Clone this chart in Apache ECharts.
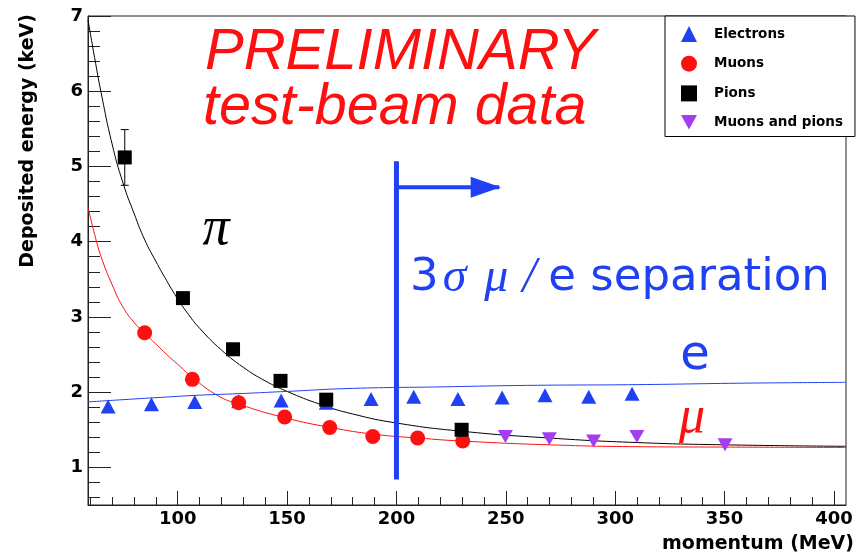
<!DOCTYPE html>
<html>
<head>
<meta charset="utf-8">
<script src="https://cdn.jsdelivr.net/npm/echarts@6/dist/echarts.min.js"></script>
<style>
  html, body { margin: 0; padding: 0; background: #fff; }
  #main { width: 857px; height: 555px; }
</style>
</head>
<body>
<div id="main"></div>
<script>
(function(){
var myChart = echarts.init(document.getElementById('main'));

// data points: [momentum MeV, deposited energy keV]
var electrons = [[68.2,1.81],[88,1.84],[107.8,1.87],[127.9,1.88],[147.3,1.89],[167.9,1.86],[188.4,1.91],[207.9,1.94],[228.1,1.91],[248.3,1.93],[267.9,1.96],[287.9,1.94],[307.7,1.98]];
var muons = [[84.9,2.79],[106.7,2.17],[127.9,1.86],[148.9,1.67],[169.5,1.53],[189.2,1.41],[209.7,1.39],[230.3,1.35]];
var pions = [[75.8,5.12],[102.4,3.25],[125.3,2.57],[147,2.15],[167.9,1.90],[229.8,1.50]];
var pionErrors = [[75.8,4.75,5.49]];   // x, low, high
var muonsAndPions = [[249.8,1.41],[269.9,1.38],[290.1,1.35],[309.9,1.41],[350.2,1.30]];

// fitted curves
var pionFit = [[59,6.95],[62,6.45],[65,5.98],[70,5.30],[75,4.78],[80,4.38],[85,4.02],[90,3.74],[95,3.48],[100,3.24],[105,3.03],[110,2.85],[120,2.56],[130,2.33],[140,2.15],[150,2.01],[165,1.84],[180,1.71],[200,1.59],[230,1.48],[270,1.39],[310,1.33],[350,1.30],[405.5,1.28]];
var muonFit = [[59,4.46],[62,4.10],[65,3.80],[70,3.43],[75,3.13],[80,2.93],[85,2.78],[90,2.64],[95,2.50],[100,2.37],[107,2.19],[118,1.96],[128,1.84],[149,1.66],[170,1.53],[190,1.44],[210,1.39],[230,1.35],[270,1.30],[310,1.275],[350,1.27],[405.5,1.265]];
var electronFit = [[59,1.87],[75,1.90],[92,1.93],[110,1.96],[128,1.98],[150,2.01],[180,2.05],[220,2.07],[260,2.09],[310,2.10],[360,2.12],[405.5,2.13]];

// 3 sigma cut and arrow
var cutLine = [[200,0.84],[200,5.07]];
var cutArrow = [[200,4.725],[240.8,4.725],[247,4.725]];

var xMajor = [100,150,200,250,300,350,400];
var xMinor = [60,70,80,90,110,120,130,140,160,170,180,190,210,220,230,240,260,270,280,290,310,320,330,340,360,370,380,390];
var yMajor = [1,2,3,4,5,6,7];
var yMinor = [0.6,0.8,1.2,1.4,1.6,1.8,2.2,2.4,2.6,2.8,3.2,3.4,3.6,3.8,4.2,4.4,4.6,4.8,5.2,5.4,5.6,5.8,6.2,6.4,6.6,6.8];

var BLUE = '#2040f4';
var RED = '#ff1010';
var PURPLE = '#a43cf0';
var AXIS = '#222';
var labelFont = {fontFamily:'DejaVu Sans', fontWeight:'bold', fontSize:18, color:'#000'};

function majorAxis(extra){
    var a = {
        type:'value', gridIndex:0,
        axisLine:{show:true, lineStyle:{color:AXIS, width:1}},
        splitLine:{show:false}
    };
    for (var k in extra) a[k] = extra[k];
    return a;
}

option = {
    animation:false,
    backgroundColor:'#fff',
    grid:{left:88, right:10, top:16, bottom:50, show:true, borderColor:AXIS, borderWidth:1, backgroundColor:'transparent'},
    xAxis:[
        majorAxis({
            position:'bottom', min:59, max:405.5,
            axisTick:{inside:true, length:14, customValues:xMajor, lineStyle:{color:AXIS}},
            axisLabel:Object.assign({margin:5, customValues:xMajor}, labelFont),
            name:'momentum (MeV)', nameLocation:'end', nameGap:8,
            nameTextStyle:{fontFamily:'DejaVu Sans', fontWeight:'bold', fontSize:19, color:'#000', align:'right', verticalAlign:'top', padding:[30,0,0,0]}
        }),
        majorAxis({
            position:'bottom', min:59, max:405.5, axisLine:{show:false},
            axisTick:{inside:true, length:8, customValues:xMinor, lineStyle:{color:AXIS}},
            axisLabel:{show:false}
        })
    ],
    yAxis:[
        majorAxis({
            position:'left', min:0.5, max:7,
            axisTick:{inside:true, length:23, customValues:yMajor, lineStyle:{color:AXIS}},
            axisLabel:Object.assign({margin:5, customValues:yMajor}, labelFont)
        }),
        majorAxis({
            position:'left', min:0.5, max:7, axisLine:{show:false},
            axisTick:{inside:true, length:12, customValues:yMinor, lineStyle:{color:AXIS}},
            axisLabel:{show:false}
        })
    ],
    legend:{
        data:['Electrons','Muons','Pions','Muons and pions'],
        orient:'vertical', left:665, top:16,
        padding:[10,12,7,16],
        itemWidth:16, itemHeight:16, itemGap:13.7,
        borderColor:'#000', borderWidth:1, backgroundColor:'#fff',
        selectedMode:false,
        textStyle:{fontFamily:'DejaVu Sans', fontWeight:'bold', fontSize:13.5, color:'#000', padding:[0,0,0,12]}
    },
    graphic:[
        {type:'text', x:28, y:14, rotation:Math.PI/2,
         style:{text:'Deposited energy (keV)', font:'bold 19px "DejaVu Sans"', fill:'#000', align:'right', verticalAlign:'middle'}},
        {type:'text', x:205, y:53,
         style:{text:'PRELIMINARY', font:'italic 58px "Liberation Sans"', fill:RED, align:'left', verticalAlign:'middle'}},
        {type:'text', x:203, y:108,
         style:{text:'test-beam data', font:'italic 57.5px "Liberation Sans"', fill:RED, align:'left', verticalAlign:'middle'}},
        {type:'text', x:216, y:230,
         style:{text:'\u03c0', font:'italic 54px "Liberation Serif"', fill:'#000', align:'center', verticalAlign:'middle'}},
        {type:'text', x:410, y:278,
         style:{
            text:'{a|3}{g|\u03c3}{g|\u03bc}{s|/}{a|e separation}',
            align:'left', verticalAlign:'middle', fill:BLUE,
            rich:{
                a:{fontFamily:'DejaVu Sans', fontSize:45, fill:BLUE},
                g:{fontFamily:'Liberation Serif', fontStyle:'italic', fontSize:48, fill:BLUE, padding:[0,14,0,4]},
                s:{fontFamily:'Liberation Serif', fontStyle:'italic', fontSize:50, fill:BLUE, padding:[0,12,0,0]}
            }
         }},
        {type:'text', x:695, y:357,
         style:{text:'e', font:'48px "DejaVu Sans"', fill:BLUE, align:'center', verticalAlign:'middle'}},
        {type:'text', x:692, y:418,
         style:{text:'\u03bc', font:'italic 52px "Liberation Serif"', fill:RED, align:'center', verticalAlign:'middle'}}
    ],
    series:[
        {name:'pion fit', type:'line', data:pionFit, smooth:true, showSymbol:false, symbol:'none',
         lineStyle:{color:'#000', width:1}, silent:true},
        {name:'muon fit', type:'line', data:muonFit, smooth:true, showSymbol:false, symbol:'none',
         lineStyle:{color:RED, width:1}, silent:true},
        {name:'electron fit', type:'line', data:electronFit, smooth:true, showSymbol:false, symbol:'none',
         lineStyle:{color:BLUE, width:1}, silent:true},
        {name:'cut', type:'line', data:cutLine, symbol:'none',
         lineStyle:{color:BLUE, width:5}, silent:true},
        {name:'arrow', type:'line',
         data:cutArrow.map(function(p, i){
             return i === 1 ? {value:p, symbol:'triangle', symbolRotate:-90, symbolSize:[21,30]} : {value:p, symbol:'none'};
         }),
         showSymbol:true, itemStyle:{color:BLUE}, lineStyle:{color:BLUE, width:4}, silent:true},
        {name:'pion errors', type:'custom', data:pionErrors, encode:{x:0, y:[1,2]}, z:3,
         renderItem:function(params, api){
             var lo = api.coord([api.value(0), api.value(1)]);
             var hi = api.coord([api.value(0), api.value(2)]);
             var st = {stroke:'#000', lineWidth:1};
             return {type:'group', children:[
                 {type:'line', shape:{x1:lo[0], y1:lo[1], x2:hi[0], y2:hi[1]}, style:st},
                 {type:'line', shape:{x1:lo[0]-4, y1:lo[1], x2:lo[0]+4, y2:lo[1]}, style:st},
                 {type:'line', shape:{x1:hi[0]-4, y1:hi[1], x2:hi[0]+4, y2:hi[1]}, style:st}
             ]};
         }},
        {name:'Electrons', type:'scatter', data:electrons, symbol:'triangle', symbolSize:[15,14],
         itemStyle:{color:BLUE, opacity:1}, z:4},
        {name:'Muons', type:'scatter', data:muons, symbol:'circle', symbolSize:15,
         itemStyle:{color:RED, opacity:1}, z:4},
        {name:'Pions', type:'scatter', data:pions, symbol:'rect', symbolSize:14,
         itemStyle:{color:'#000', opacity:1}, z:4},
        {name:'Muons and pions', type:'scatter', data:muonsAndPions, symbol:'path://M0,0L2,0L1,1.8Z', symbolSize:[15,13],
         itemStyle:{color:PURPLE, opacity:1}, z:4}
    ]
};
myChart.setOption(option);
})();
</script>
</body>
</html>
